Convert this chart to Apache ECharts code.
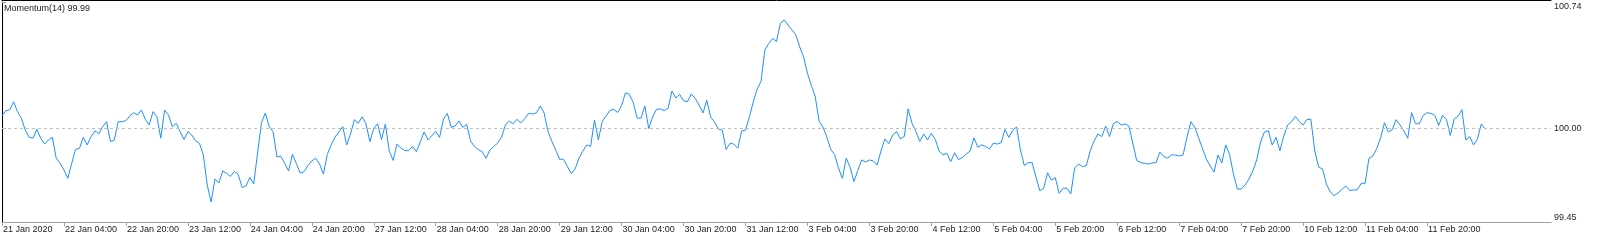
<!DOCTYPE html>
<html>
<head>
<meta charset="utf-8">
<script src="https://cdn.jsdelivr.net/npm/echarts@6/dist/echarts.min.js"></script>
<style>
html,body{margin:0;padding:0;background:#fff;}
#chart{width:1600px;height:243px;}
</style>
</head>
<body>
<div id="chart"></div>
<script>
// Momentum(14) values, one per hourly bar starting 21 Jan 2020 12:00
const momentum = [
100.072,100.103,100.107,100.155,100.097,100.058,99.989,99.947,99.941,99.994,
99.941,99.907,99.931,99.947,99.824,99.794,99.755,99.706,99.794,99.876,
99.882,99.947,99.902,99.950,99.985,99.966,100.009,100.038,99.921,99.931,
100.038,100.038,100.044,100.072,100.091,100.077,100.107,100.052,100.019,100.097,
100.067,99.941,100.107,100.077,100.009,100.029,99.980,99.935,99.980,99.960,
99.925,99.911,99.843,99.667,99.567,99.702,99.679,99.749,99.736,99.717,
99.746,99.729,99.652,99.661,99.711,99.673,99.855,100.031,100.089,100.010,
99.980,99.831,99.837,99.794,99.749,99.846,99.794,99.737,99.745,99.781,
99.808,99.824,99.790,99.731,99.846,99.902,99.948,99.978,100.009,99.902,
99.966,100.050,100.029,100.067,100.025,99.921,99.999,100.026,99.933,100.024,
99.866,99.811,99.907,99.884,99.869,99.868,99.893,99.863,99.919,99.978,
99.931,99.957,99.981,99.946,100.054,100.087,100.005,100.013,100.042,100.005,
100.023,99.925,99.893,99.874,99.862,99.824,99.872,99.893,99.913,99.948,
100.019,100.042,100.026,100.052,100.031,100.056,100.087,100.083,100.090,100.130,
100.089,99.980,99.922,99.872,99.818,99.818,99.775,99.734,99.761,99.825,
99.866,99.902,99.893,100.048,99.931,100.039,100.072,100.105,100.110,100.092,
100.133,100.207,100.199,100.151,100.060,100.058,100.130,99.998,100.066,100.110,
100.113,100.103,100.116,100.218,100.177,100.198,100.161,100.155,100.201,100.175,
100.136,100.089,100.163,100.066,100.036,99.995,99.989,99.875,99.911,99.907,
99.882,99.984,99.989,100.067,100.154,100.230,100.274,100.459,100.497,100.526,
100.509,100.614,100.635,100.605,100.576,100.547,100.476,100.418,100.321,100.250,
100.186,100.042,100.007,99.948,99.876,99.846,99.767,99.706,99.824,99.772,
99.687,99.752,99.814,99.802,99.814,99.808,99.784,99.869,99.937,99.910,
99.960,99.980,99.937,99.951,100.113,100.029,99.980,99.922,99.966,99.931,
99.970,99.934,99.866,99.843,99.853,99.804,99.856,99.816,99.828,99.849,
99.866,99.943,99.888,99.902,99.893,99.878,99.913,99.907,99.915,99.992,
99.946,99.989,100.007,99.872,99.781,99.798,99.798,99.714,99.633,99.648,
99.739,99.696,99.709,99.618,99.648,99.648,99.614,99.767,99.790,99.775,
99.780,99.866,99.925,99.966,99.951,100.013,99.951,100.028,100.038,100.019,
100.025,100.013,99.913,99.811,99.799,99.794,99.790,99.796,99.798,99.860,
99.834,99.824,99.843,99.843,99.837,99.843,99.948,100.038,100.007,99.943,
99.881,99.819,99.778,99.743,99.843,99.796,99.902,99.846,99.731,99.643,
99.643,99.667,99.702,99.749,99.814,99.919,99.978,99.985,99.902,99.946,
99.868,99.954,100.019,100.039,100.069,100.039,100.019,100.052,100.052,99.866,
99.772,99.761,99.673,99.626,99.605,99.620,99.641,99.661,99.635,99.638,
99.639,99.677,99.677,99.824,99.837,99.881,99.943,100.032,99.978,99.991,
100.050,100.019,99.984,99.941,100.091,100.026,100.026,100.075,100.091,100.087,
100.075,100.016,100.075,100.052,99.957,100.054,100.070,100.109,99.931,99.950,
99.902,99.935,100.025,99.994
];

// time-axis tick labels, one every 16 hourly bars
const tickLabels = [
'21 Jan 2020','22 Jan 04:00','22 Jan 20:00','23 Jan 12:00','24 Jan 04:00','24 Jan 20:00',
'27 Jan 12:00','28 Jan 04:00','28 Jan 20:00','29 Jan 12:00','30 Jan 04:00','30 Jan 20:00',
'31 Jan 12:00','3 Feb 04:00','3 Feb 20:00','4 Feb 12:00','5 Feb 04:00','5 Feb 20:00',
'6 Feb 12:00','7 Feb 04:00','7 Feb 20:00','10 Feb 12:00','11 Feb 04:00','11 Feb 20:00'
];
const barsPerTick = 16;
const totalSlots = 401; // bars plus the empty right margin of the chart

// value-axis labels
const yTicks = [99.45, 100.00, 100.74];
const levelValue = 100.00;

const categories = [];
for (let i = 0; i < totalSlots; i++) categories.push(i);

const tickInterval = function (i) {
  return i % barsPerTick === 0 && (i / barsPerTick) < tickLabels.length;
};

const FONT = 'Liberation Sans, Arial, sans-serif';
const chart = echarts.init(document.getElementById('chart'), null, {renderer: 'canvas'});
chart.setOption({
  animation: false,
  backgroundColor: '#ffffff',
  title: {
    text: 'Momentum(14) ' + momentum[momentum.length - 1].toFixed(2),
    left: 4, top: 4, padding: 0,
    textStyle: {fontFamily: FONT, fontSize: 9, fontWeight: 'normal', color: '#222'}
  },
  grid: {left: 1, right: 49, top: 2, bottom: 21, containLabel: false},
  xAxis: [{
    type: 'category',
    data: categories,
    boundaryGap: false,
    axisLine: {show: true, lineStyle: {color: '#a0a0a0', width: 1}},
    axisTick: {show: true, interval: tickInterval, length: 4, lineStyle: {color: '#a0a0a0'}},
    axisLabel: {
      show: true, interval: tickInterval, align: 'left', margin: 3,
      fontFamily: FONT, fontSize: 9, color: '#222', padding: [0, 0, 0, 1],
      formatter: function (v, i) { return tickLabels[Math.round(i / barsPerTick)] || ''; }
    },
    splitLine: {show: false}
  }, {
    type: 'value', position: 'top', offset: 2, min: 0, max: 1,
    axisLine: {show: true, lineStyle: {color: '#000', width: 1}},
    axisTick: {show: false}, axisLabel: {show: false}, splitLine: {show: false}
  }],
  yAxis: [{
    type: 'value',
    position: 'right',
    min: yTicks[0], max: yTicks[yTicks.length - 1],
    axisLine: {show: true, lineStyle: {color: '#a0a0a0', width: 1}},
    axisTick: {show: true, length: 4, customValues: yTicks, lineStyle: {color: '#a0a0a0'}},
    axisLabel: {
      show: true, margin: 3, customValues: yTicks,
      fontFamily: FONT, fontSize: 9, color: '#222',
      verticalAlignMinLabel: 'bottom', verticalAlignMaxLabel: 'top',
      formatter: function (v) { return v.toFixed(2); }
    },
    splitLine: {show: false}
  }, {
    type: 'value', position: 'left', min: 0, max: 1,
    axisLine: {show: true, onZero: false, lineStyle: {color: '#000', width: 1}},
    axisTick: {show: false}, axisLabel: {show: false}, splitLine: {show: false}
  }],
  series: [{
    type: 'line',
    xAxisIndex: 0, yAxisIndex: 0,
    data: momentum,
    showSymbol: false,
    symbol: 'none',
    smooth: false,
    lineStyle: {color: '#1E90FF', width: 1},
    itemStyle: {color: '#1E90FF'},
    markLine: {
      silent: true, symbol: ['none', 'none'],
      label: {show: false},
      lineStyle: {color: '#c0c0c0', type: [3, 3], width: 1},
      data: [{yAxis: levelValue}]
    }
  }]
});
</script>
</body>
</html>
